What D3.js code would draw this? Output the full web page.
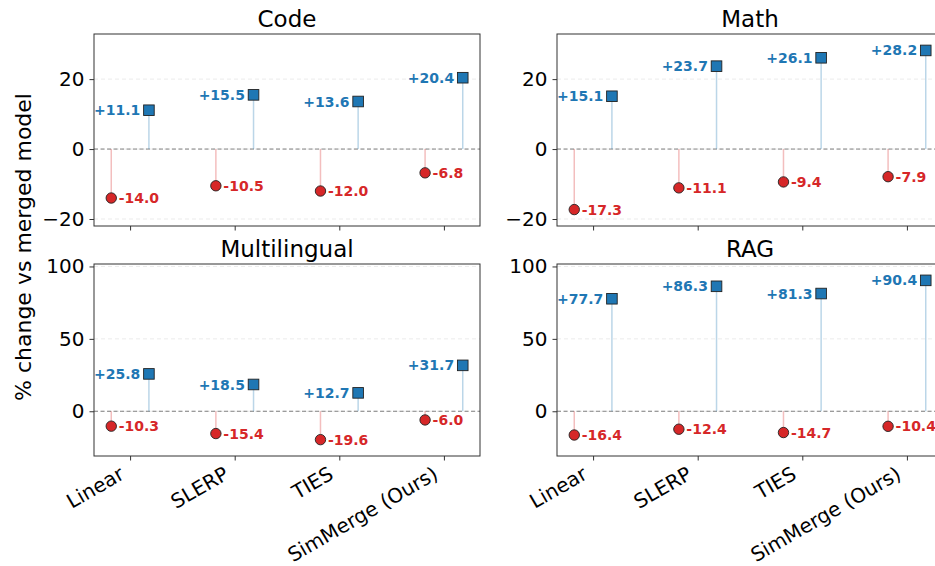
<!DOCTYPE html>
<html>
<head>
<meta charset="utf-8">
<script src="https://cdn.jsdelivr.net/npm/d3@7"></script>
<style>
  body { margin: 0; background: #fff; }
  text { font-family: "DejaVu Sans", sans-serif; }
</style>
</head>
<body>
<div id="chart"></div>
<script>
// categories and values
var methods = ["Linear", "SLERP", "TIES", "SimMerge (Ours)"];
var panels = ["Code", "Math", "Multilingual", "RAG"];

var codeDown = [-14.0, -10.5, -12.0, -6.8];
var codeUp   = [11.1, 15.5, 13.6, 20.4];
var mathDown = [-17.3, -11.1, -9.4, -7.9];
var mathUp   = [15.1, 23.7, 26.1, 28.2];
var multiDown = [-10.3, -15.4, -19.6, -6.0];
var multiUp   = [25.8, 18.5, 12.7, 31.7];
var ragDown = [-16.4, -12.4, -14.7, -10.4];
var ragUp   = [77.7, 86.3, 81.3, 90.4];

var topTicks = [-20, 0, 20];
var bottomTicks = [0, 50, 100];

var W = 935, H = 566;
var blue = "#1f77b4", red = "#d62728";

var svg = d3.select("#chart").append("svg")
  .attr("width", W)
  .attr("height", H);

// panel layout
var colX = [94, 557], rowY = [34, 264];
var pw = 386, ph = 192;

var setup = [
  {title: panels[0], down: codeDown, up: codeUp, col: 0, row: 0, dom: [-22, 32.9], ticks: topTicks},
  {title: panels[1], down: mathDown, up: mathUp, col: 1, row: 0, dom: [-22, 32.9], ticks: topTicks},
  {title: panels[2], down: multiDown, up: multiUp, col: 0, row: 1, dom: [-30.9, 101.7], ticks: bottomTicks},
  {title: panels[3], down: ragDown, up: ragUp, col: 1, row: 1, dom: [-30.9, 101.7], ticks: bottomTicks}
];

var off = 0.18;
// plain hyphen for the value labels, like the original
function fmt(d) { return d.toFixed(1); }

setup.forEach(function(p) {
  var g = svg.append("g")
    .attr("transform", "translate(" + colX[p.col] + "," + rowY[p.row] + ")");

  var x = d3.scaleLinear().domain([-0.345, 3.345]).range([0, pw]);
  var y = d3.scaleLinear().domain(p.dom).range([ph, 0]);

  var clip = "clip" + p.col + p.row;
  g.append("clipPath").attr("id", clip)
    .append("rect").attr("width", pw).attr("height", ph);

  var body = g.append("g").attr("clip-path", "url(#" + clip + ")");

  // faint grid
  body.selectAll(".grid").data(p.ticks).enter()
    .append("line")
    .attr("x1", 0).attr("x2", pw)
    .attr("y1", function(d) { return y(d); })
    .attr("y2", function(d) { return y(d); })
    .attr("stroke", "#e6e6e6")
    .attr("stroke-dasharray", "4,3")
    .attr("stroke-width", 0.8);

  // zero line
  body.append("line")
    .attr("x1", 0).attr("x2", pw)
    .attr("y1", y(0)).attr("y2", y(0))
    .attr("stroke", "#808080")
    .attr("stroke-dasharray", "4,2.5")
    .attr("stroke-width", 1);

  // stems
  body.selectAll(".stemDown").data(p.down).enter()
    .append("line")
    .attr("x1", function(d, i) { return x(i - off); })
    .attr("x2", function(d, i) { return x(i - off); })
    .attr("y1", y(0))
    .attr("y2", function(d) { return y(d); })
    .attr("stroke", red).attr("stroke-opacity", 0.3)
    .attr("stroke-width", 1.5);

  body.selectAll(".stemUp").data(p.up).enter()
    .append("line")
    .attr("x1", function(d, i) { return x(i + off); })
    .attr("x2", function(d, i) { return x(i + off); })
    .attr("y1", y(0))
    .attr("y2", function(d) { return y(d); })
    .attr("stroke", blue).attr("stroke-opacity", 0.3)
    .attr("stroke-width", 1.5);

  // markers
  body.selectAll(".dot").data(p.down).enter()
    .append("circle")
    .attr("cx", function(d, i) { return x(i - off); })
    .attr("cy", function(d) { return y(d); })
    .attr("r", 5.2)
    .attr("fill", red)
    .attr("stroke", "#222").attr("stroke-width", 0.9);

  body.selectAll(".sq").data(p.up).enter()
    .append("rect")
    .attr("x", function(d, i) { return x(i + off) - 5.3; })
    .attr("y", function(d) { return y(d) - 5.3; })
    .attr("width", 10.6).attr("height", 10.6)
    .attr("fill", blue)
    .attr("stroke", "#222").attr("stroke-width", 0.9);

  // value labels
  g.selectAll(".lblDown").data(p.down).enter()
    .append("text")
    .attr("x", function(d, i) { return x(i - off) + 7.5; })
    .attr("y", function(d) { return y(d); })
    .attr("dy", "0.36em")
    .attr("fill", red)
    .style("font-size", "14px").style("font-weight", "bold")
    .text(function(d) { return fmt(d); });

  g.selectAll(".lblUp").data(p.up).enter()
    .append("text")
    .attr("x", function(d, i) { return x(i + off) - 8.6; })
    .attr("y", function(d) { return y(d); })
    .attr("dy", "0.36em")
    .attr("text-anchor", "end")
    .attr("fill", blue)
    .style("font-size", "14px").style("font-weight", "bold")
    .text(function(d) { return "+" + fmt(d); });

  // axes
  var yAxis = d3.axisLeft(y).tickValues(p.ticks).tickSize(4.5).tickPadding(5)
    .tickFormat(function(d) { return d < 0 ? "\u2212" + Math.abs(d) : d; });
  var ya = g.append("g").call(yAxis);
  ya.select(".domain").remove();
  ya.selectAll("text").style("font-size", "20px").attr("fill", "#000")
    .style("font-family", "DejaVu Sans, sans-serif");
  ya.selectAll("line").attr("stroke", "#333");

  var xAxis = d3.axisBottom(x).tickValues(d3.range(methods.length)).tickSize(4.5)
    .tickFormat(function(d) { return p.row === 1 ? methods[d] : ""; });
  var xa = g.append("g").attr("transform", "translate(0," + ph + ")").call(xAxis);
  xa.select(".domain").remove();
  xa.selectAll("line").attr("stroke", "#333");
  xa.selectAll("text")
    .style("font-size", "20px").style("font-family", "DejaVu Sans, sans-serif")
    .attr("fill", "#000")
    .attr("text-anchor", "end")
    .attr("y", 0).attr("dy", 0)
    .attr("transform", "translate(-5,22) rotate(-30)");

  // frame
  g.append("rect")
    .attr("width", pw).attr("height", ph)
    .attr("fill", "none")
    .attr("stroke", "#333").attr("stroke-width", 1);

  // title
  g.append("text")
    .attr("x", pw / 2).attr("y", -7)
    .attr("text-anchor", "middle")
    .style("font-size", "23px")
    .text(p.title);
});

// shared y label
svg.append("text")
  .attr("transform", "translate(31,247) rotate(-90)")
  .attr("text-anchor", "middle")
  .style("font-size", "22px")
  .text("% change vs merged model");
</script>
</body>
</html>
